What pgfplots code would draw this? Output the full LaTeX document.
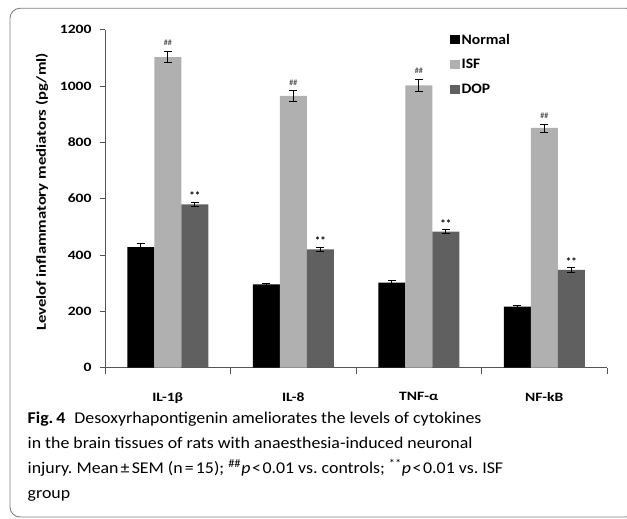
\documentclass[border=0pt]{standalone}
\usepackage{fontspec}
\setmainfont{Carlito}
\newfontfamily\chartfont[FakeStretch=1.22]{Carlito}
\usepackage{graphicx}
\usepackage{pgfplots}
\pgfplotsset{compat=1.18}
\usepackage{pgfplotstable}

\definecolor{isfc}{HTML}{B0B0B0}
\definecolor{dopc}{HTML}{606060}
\definecolor{axc}{HTML}{555555}

\newcommand{\cs}[1]{\scalebox{1.085}[1]{#1}}
\newcommand{\ls}[1]{\scalebox{1.08}[1]{#1}}

\pgfplotstableread{
x normal nerr isf ierr dop derr
0 428 12 1103 20 580 8
1 296 4 965 18 420 8
2 302 8 1002 22 483 8
3 217 3 851 14 347 8
}\data

\begin{document}
\frenchspacing
\begin{tikzpicture}[x=1bp,y=1bp]
\useasboundingbox (0,0) rectangle (627,519);
\draw[black!50, line width=0.9bp, rounded corners=10bp] (10,2) rectangle (636,510.7);
\begin{axis}[
  at={(105bp,151.3bp)}, anchor=south west,
  scale only axis, width=502bp, height=338bp,
  xmin=-0.5, xmax=3.5, ymin=0, ymax=1200,
  axis x line*=bottom, axis y line*=left,
  axis line style={-, axc, line width=0.9bp},
  ytick={0,200,...,1200},
  xtick={0,1,2,3}, xticklabels={IL-1β,IL-8,TNF-α,NF-kB},
  major x tick style={draw=none},
  minor xtick={-0.5,0.5,1.5,2.5,3.5},
  tick align=outside,
  major tick length=5bp, minor tick length=6bp,
  tick style={axc, line width=0.9bp},
  /pgf/number format/assume math mode=true,
  /pgf/number format/1000 sep={},
  tick label style={font=\chartfont\bfseries\fontsize{12.8}{14}\selectfont},
  xticklabel style={yshift=-16bp},
  yticklabel style={xshift=-5bp},
  ylabel={Levelof inflammatory mediators (pg/ml)},
  ylabel style={at={(axis description cs:-0.1255,0.52)}, anchor=center, font=\chartfont\bfseries\fontsize{13.7}{16}\selectfont},
  ybar=0pt, bar width=27bp,
  /pgfplots/error bars/error bar style={line width=0.8bp, black},
  /pgfplots/error bars/error mark options={rotate=90, mark size=4bp, line width=0.8bp, black},
  legend style={at={(axis description cs:0.686,1.0)}, yshift=-2bp, anchor=north west, draw=none, fill=none,
    font=\bfseries\fontsize{14.5}{16}\selectfont, row sep=9.6bp, inner sep=0pt, nodes={inner sep=2bp}},
  legend cell align=left,
  legend image code/.code={\path[#1, draw=none] (0bp,-4.5bp) rectangle (10bp,4.5bp);},
]
\addplot[fill=black, draw=none, bar shift=-27bp, error bars/.cd, y dir=both, y explicit]
  table[x=x, y=normal, y error=nerr]{\data};
\addlegendentry{\ls{Normal}}
\addplot[fill=isfc, draw=none, bar shift=0bp, error bars/.cd, y dir=both, y explicit]
  table[x=x, y=isf, y error=ierr]{\data};
\addlegendentry{\ls{ISF}}
\addplot[fill=dopc, draw=none, bar shift=27bp, error bars/.cd, y dir=both, y explicit]
  table[x=x, y=dop, y error=derr]{\data};
\addlegendentry{\ls{DOP}}
\addplot[draw=none, fill=none, bar shift=0bp, forget plot, nodes near coords={\#\#},
  every node near coord/.append style={font=\bfseries\fontsize{8}{9}\selectfont, text=black!65, anchor=south, inner sep=1bp, yshift=4.5bp}]
  table[x=x, y expr=\thisrow{isf}+\thisrow{ierr}]{\data};
\addplot[draw=none, fill=none, bar shift=27bp, forget plot, nodes near coords={**},
  every node near coord/.append style={font=\bfseries\fontsize{11}{12}\selectfont, text=black, anchor=south, inner sep=1bp, yshift=1bp}]
  table[x=x, y expr=\thisrow{dop}+\thisrow{derr}]{\data};
\end{axis}
\begin{scope}[every node/.style={anchor=base west, inner sep=0pt, font=\fontsize{16.5}{20}\selectfont}]
\node at (27.5,95.7) {\cs{\textbf{Fig.\,4}\hspace{0.5em}Desoxyrhapontigenin ameliorates the levels of cytokines}};
\node at (27.5,70.7) {\cs{in the brain tissues of rats with anaesthesia-induced neuronal}};
\node at (27.5,45.7) {\cs{injury. Mean\kern2bp±\kern2bp SEM (n\kern2bp=\kern2bp15); \textsuperscript{\#\#}\textit{p}\kern1.5bp<\kern1.5bp0.01 vs. controls; \textsuperscript{**}\textit{p}\kern1.5bp<\kern1.5bp0.01 vs. ISF}};
\node at (27.5,20.7) {\cs{group}};
\end{scope}
\end{tikzpicture}
\end{document}
